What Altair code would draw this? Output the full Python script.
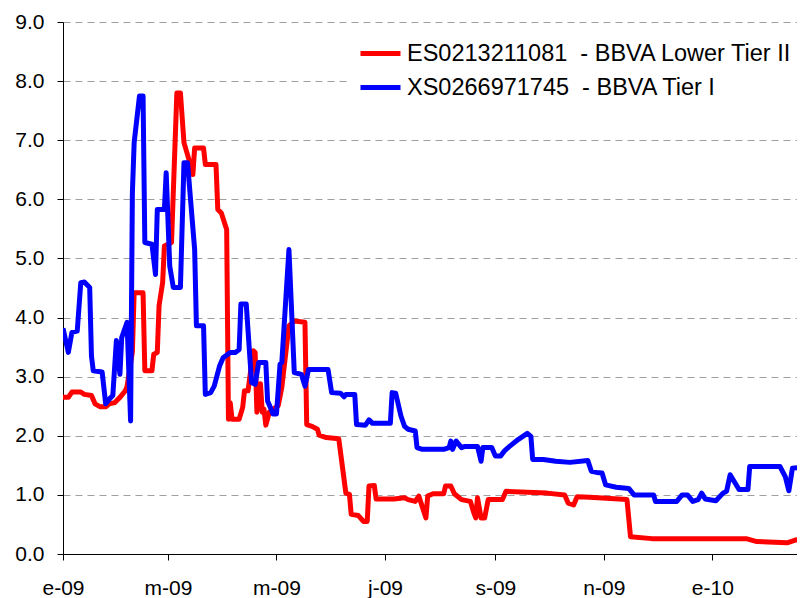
import altair as alt
import pandas as pd

# ---- data (days since 2009-01-01, value) ----
series_names = ["ES0213211081\u00a0 - BBVA Lower Tier II", "XS0266971745\u00a0 - BBVA Tier I"]
series_colors = ["#FF0000", "#0000FF"]

red_days = [0, 3, 5, 10, 12, 16, 18, 21, 24, 26, 29, 32, 35, 36, 39, 40, 45, 46, 50, 51,
            53, 54, 56, 57, 61, 64, 66, 68, 71, 73, 74, 79, 80, 86, 87, 89, 92, 93, 94, 95,
            99, 101, 102, 104, 107, 108, 109, 111, 112, 113, 114, 116, 121, 123, 127, 130,
            136, 137, 140, 143, 144, 148, 155, 157, 159, 161, 162, 166, 169, 171, 172, 175,
            176, 186, 192, 194, 198, 200, 204, 205, 208, 214, 215, 218, 220, 224, 229, 231,
            232, 233, 235, 237, 239, 247, 249, 272, 282, 284, 287, 289, 296, 317, 319, 331,
            360, 384, 390, 407, 412, 417]
red_vals = [2.65, 2.65, 2.74, 2.74, 2.70, 2.68, 2.54, 2.49, 2.49, 2.54, 2.56, 2.65, 2.76, 2.83,
            3.42, 4.42, 4.42, 3.10, 3.10, 3.38, 3.41, 4.20, 4.59, 5.21, 5.27, 7.80, 7.80,
            6.96, 6.65, 6.42, 6.87, 6.87, 6.59, 6.59, 5.83, 5.77, 5.49, 2.28, 2.56, 2.28,
            2.28, 2.48, 2.76, 2.76, 3.44, 3.41, 2.40, 2.88, 2.40, 2.45, 2.18, 2.40, 2.51,
            2.82, 3.86, 3.94, 3.92, 2.19, 2.16, 2.11, 2.01, 1.97, 1.95, 1.49, 1.03, 1.01,
            0.67, 0.65, 0.55, 0.55, 1.15, 1.16, 0.93, 0.93, 0.95, 0.92, 0.89, 0.98, 0.61,
            0.98, 1.02, 1.02, 1.15, 1.15, 1.02, 0.92, 0.89, 0.69, 0.61, 0.95, 0.61, 0.61,
            0.92, 0.92, 1.06, 1.03, 1.00, 0.86, 0.83, 0.97, 0.96, 0.92, 0.29, 0.26, 0.26,
            0.26, 0.21, 0.19, 0.24, 0.22]

blue_days = [0, 3, 5, 8, 10, 12, 15, 16, 17, 22, 24, 26, 28, 30, 32, 33, 36, 38, 39, 40, 43,
             45, 46, 50, 52, 53, 57, 58, 60, 62, 66, 68, 70, 74, 75, 79, 80, 83, 85, 88, 90,
             94, 97, 99, 100, 103, 106, 108, 110, 114, 115, 117, 118, 120, 122, 123, 127,
             130, 134, 136, 138, 149, 151, 156, 158, 159, 164, 165, 170, 172, 174, 184, 185,
             187, 190, 192, 194, 198, 199, 202, 214, 217, 218, 219, 221, 224, 226, 233, 235,
             236, 241, 243, 246, 248, 251, 256, 261, 263, 264, 270, 277, 285, 295, 297, 300,
             303, 305, 311, 318, 321, 332, 333, 345, 348, 351, 354, 357, 359, 361, 367, 371,
             373, 375, 380, 385, 386, 403, 406, 408, 410, 417]
blue_vals = [3.82, 3.41, 3.75, 3.77, 4.59, 4.60, 4.51, 3.35, 3.10, 3.08, 2.54, 2.62, 2.68,
             3.61, 3.04, 3.66, 3.92, 2.25, 6.11, 6.96, 7.75, 7.75, 5.27, 5.24, 4.73, 5.83,
             5.83, 6.45, 4.87, 4.51, 4.51, 6.62, 6.62, 5.15, 3.86, 3.86, 2.70, 2.73, 2.84,
             3.18, 3.32, 3.41, 3.41, 3.46, 4.23, 4.23, 2.90, 2.87, 3.24, 3.24, 2.59, 2.45,
             2.37, 2.37, 3.21, 3.24, 5.15, 3.07, 3.04, 2.84, 3.12, 3.12, 2.73, 2.72, 2.66,
             2.70, 2.70, 2.19, 2.18, 2.27, 2.21, 2.21, 2.73, 2.72, 2.33, 2.16, 2.11, 2.08,
             1.80, 1.77, 1.77, 1.80, 1.91, 1.77, 1.91, 1.80, 1.82, 1.82, 1.57, 1.80, 1.80,
             1.66, 1.66, 1.74, 1.82, 1.94, 2.04, 1.99, 1.60, 1.60, 1.57, 1.55, 1.58, 1.40,
             1.38, 1.37, 1.17, 1.13, 1.11, 1.00, 1.00, 0.89, 0.89, 1.00, 1.00, 0.89, 0.92,
             1.03, 0.93, 0.90, 1.03, 1.06, 1.34, 1.09, 1.09, 1.48, 1.48, 1.31, 1.07, 1.45,
             1.47]

y_ticks = [0, 1, 2, 3, 4, 5, 6, 7, 8, 9]
x_tick_months = [(2009, 1), (2009, 3), (2009, 5), (2009, 7), (2009, 9), (2009, 11), (2010, 1)]
month_letters = ["e", "f", "m", "a", "m", "j", "j", "a", "s", "o", "n", "d"]

start = pd.Timestamp("2009-01-01")


def to_dates(days):
    return [(start + pd.Timedelta(days=d)).strftime("%Y-%m-%d") for d in days]


df = pd.concat([
    pd.DataFrame({"date": to_dates(red_days), "value": red_vals, "serie": series_names[0], "ord": 0}),
    pd.DataFrame({"date": to_dates(blue_days), "value": blue_vals, "serie": series_names[1], "ord": 1}),
])

letters_js = "[" + ",".join("'%s'" % m for m in month_letters) + "]"
label_expr = letters_js + "[utcmonth(datum.value)] + '-' + utcFormat(datum.value, '%y')"

x_values = [alt.DateTime(year=y, month=m, date=1, utc=True) for (y, m) in x_tick_months]

chart = alt.Chart(df).mark_line(strokeWidth=5, strokeJoin="round", clip=True).encode(
    x=alt.X("date:T",
            scale=alt.Scale(type="utc",
                            domain=[alt.DateTime(year=2009, month=1, date=1, utc=True),
                                    alt.DateTime(year=2010, month=2, date=17, hours=14, utc=True)]),
            axis=alt.Axis(title=None, values=x_values, labelExpr=label_expr, grid=False,
                          labelFontSize=21, labelPadding=17, tickSize=6, labelFlush=False,
                          labelOverlap=False)),
    y=alt.Y("value:Q",
            scale=alt.Scale(domain=[0, 9], nice=False, zero=True),
            axis=alt.Axis(title=None, values=y_ticks, format=".1f", grid=True,
                          gridDash=[7, 5], gridColor="#a0a0a0", gridWidth=1,
                          labelFontSize=21, labelPadding=13, tickSize=6)),
    color=alt.Color("serie:N",
                    scale=alt.Scale(domain=series_names, range=series_colors),
                    legend=alt.Legend(title=None, orient="none", legendX=287, legendY=1,
                                      symbolType="stroke", symbolSize=1600,
                                      symbolStrokeWidth=5, labelFontSize=23.5, labelLimit=0,
                                      labelOffset=4, rowPadding=-6, padding=8,
                                      fillColor="white", labelColor="black")),
    order=alt.Order("ord:Q"),
).properties(
    width=734,
    height=532,
    autosize=alt.AutoSizeParams(type="none"),
    padding={"left": 55, "top": 14, "right": 0, "bottom": 44},
).configure(
    font="Liberation Sans",
    background="white",
).configure_view(
    stroke=None,
).configure_axis(
    domainColor="black",
    domainWidth=1,
    tickColor="black",
    labelColor="black",
    labelFont="Liberation Sans",
)

chart.save("out.html", embed_options={"renderer": "svg", "actions": False})
